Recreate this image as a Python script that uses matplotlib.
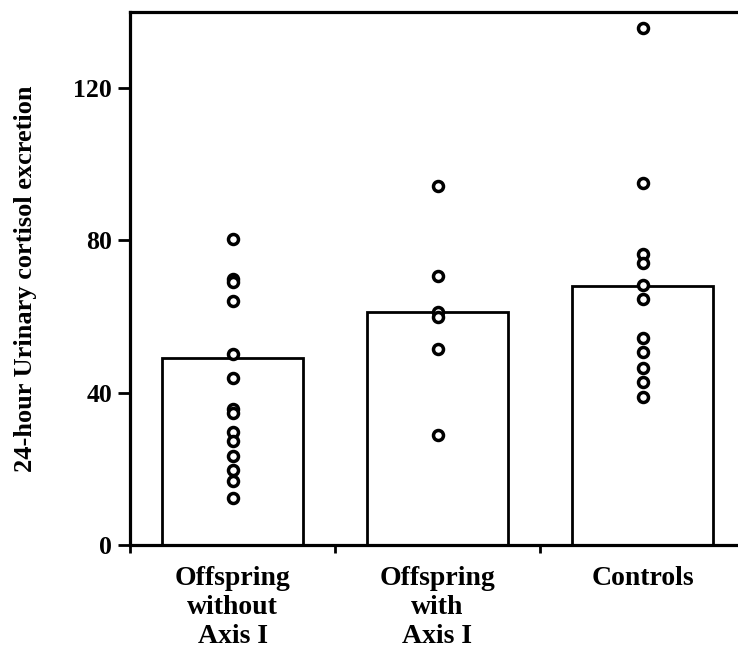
import matplotlib
matplotlib.use("Agg")
import matplotlib.pyplot as plt

categories = ["Offspring\nwithout\nAxis I", "Offspring\nwith\nAxis I", "Controls"]
bar_means = [49.1, 61.2, 68.0]
group1 = [80.5, 70.0, 69.1, 64.1, 50.2, 43.8, 35.6, 34.8, 29.8, 27.2, 23.4, 19.7, 16.8, 12.3]
group2 = [94.3, 70.6, 61.3, 60.0, 51.5, 28.9]
group3 = [135.7, 95.1, 76.5, 74.2, 68.3, 64.6, 54.5, 50.8, 46.6, 42.7, 39.0]
groups = [group1, group2, group3]
yticks = [0, 40, 80, 120]

plt.rcParams['font.family'] = ['Liberation Serif', 'DejaVu Serif']
plt.rcParams['font.weight'] = 'bold'

W, H = 738, 649
fig = plt.figure(figsize=(W / 100, H / 100), dpi=100)
ax_w_px = 650.0
ax = fig.add_axes([130 / W, (H - 545) / H, ax_w_px / W, (545 - 12) / H])

xpos = [0.5, 1.5, 2.5]
ax.bar(xpos, bar_means, width=0.685, facecolor='white', edgecolor='black',
       linewidth=2.0, zorder=2)
for x, vals in zip(xpos, groups):
    ax.plot([x] * len(vals), vals, linestyle='none', marker='o', markersize=7.2,
            markerfacecolor='white', markeredgecolor='black', markeredgewidth=2.5,
            zorder=3, clip_on=False)

ax.set_xlim(0, ax_w_px / 205.0)
ax.set_ylim(0, 140)
ax.set_yticks(yticks)
ax.set_yticklabels([str(t) for t in yticks], fontsize=18.5, fontweight='bold')
ax.set_xticks([0, 1, 2, 3])
ax.set_xticklabels([])
ax.set_xticks(xpos, categories, minor=True)
ax.tick_params(axis='x', which='minor', length=0, pad=15, labelsize=20)
ax.tick_params(axis='x', which='major', direction='out', length=6, width=2)
ax.tick_params(axis='y', which='major', direction='out', length=9, width=2, pad=4)
for lbl in ax.get_xticklabels(minor=True):
    lbl.set_fontweight('bold')
    lbl.set_linespacing(1.22)

for s in ['left', 'bottom', 'top']:
    ax.spines[s].set_linewidth(2.3)
ax.spines['right'].set_visible(False)

ax.set_ylabel("24-hour Urinary cortisol excretion", fontsize=19, fontweight='bold')
ax.yaxis.set_label_coords(-(130 - 26) / ax_w_px, 0.5)
ax.yaxis.label.set_verticalalignment('center')

fig.savefig("out.png", dpi=100)
